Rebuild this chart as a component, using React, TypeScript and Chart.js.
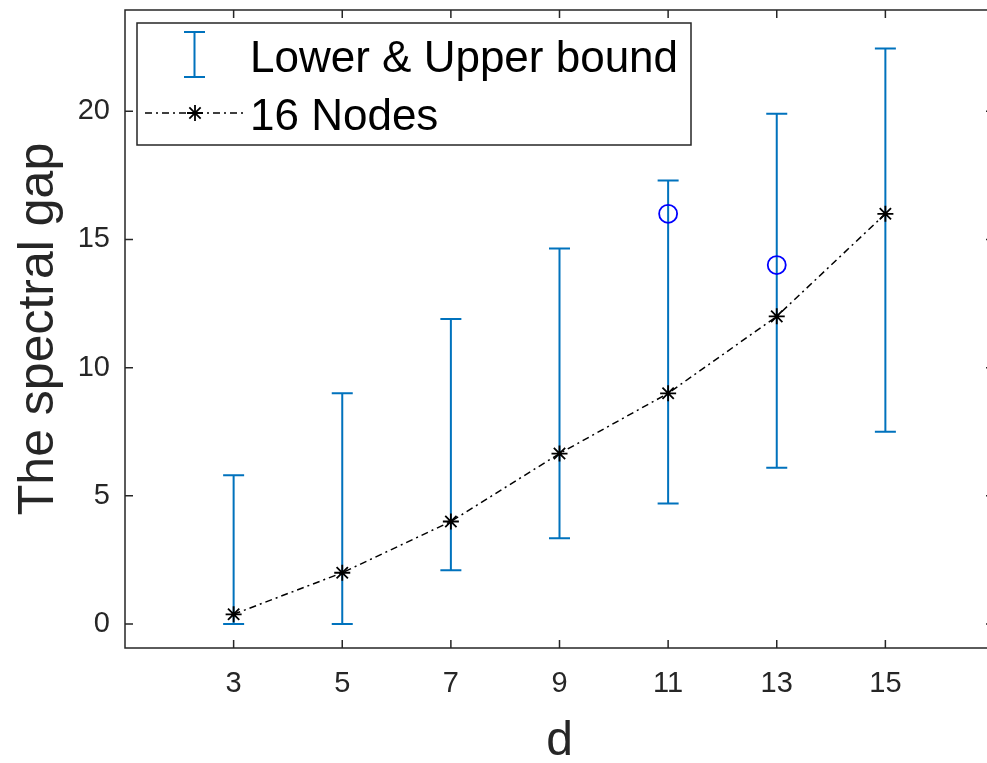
import React, { useEffect, useRef } from "react";
import { Chart, registerables } from "chart.js";

Chart.register(...registerables);

// ---- data ----
const dValues = [3, 5, 7, 9, 11, 13, 15];
const nodes16 = [0.38, 2.0, 4.0, 6.65, 9.0, 12.0, 16.0];
const lowerBound = [0, 0, 2.1, 3.35, 4.7, 6.1, 7.5];
const upperBound = [5.8, 9.0, 11.9, 14.65, 17.3, 19.9, 22.45];
const circleX = [11, 13];
const circleY = [16, 14];
const xTickValues = [3, 5, 7, 9, 11, 13, 15];
const yTickValues = [0, 5, 10, 15, 20];
const legendLabels = ["Lower & Upper bound", "16 Nodes"];

const AXIS_COLOR = "#262626";
const ERR_COLOR = "#0072BD";
const FONT = "'Liberation Sans', Arial, Helvetica, sans-serif";
const DASH = [7, 4, 2, 4];

function drawStar(ctx: CanvasRenderingContext2D, x: number, y: number, r: number) {
  ctx.beginPath();
  for (let i = 0; i < 4; i++) {
    const a = (i * Math.PI) / 4;
    ctx.moveTo(x - r * Math.cos(a), y - r * Math.sin(a));
    ctx.lineTo(x + r * Math.cos(a), y + r * Math.sin(a));
  }
  ctx.stroke();
}

const errorBarPlugin = {
  id: "errorBars",
  beforeDatasetsDraw(chart: any) {
    const { ctx, scales } = chart;
    const xs = scales.x;
    const ys = scales.y;
    ctx.save();
    ctx.strokeStyle = ERR_COLOR;
    ctx.lineWidth = 2;
    const cap = 10.5;
    dValues.forEach((d, i) => {
      const x = xs.getPixelForValue(d);
      const yl = ys.getPixelForValue(lowerBound[i]);
      const yu = ys.getPixelForValue(upperBound[i]);
      ctx.beginPath();
      ctx.moveTo(x, yl);
      ctx.lineTo(x, yu);
      ctx.moveTo(x - cap, yl);
      ctx.lineTo(x + cap, yl);
      ctx.moveTo(x - cap, yu);
      ctx.lineTo(x + cap, yu);
      ctx.stroke();
    });
    ctx.restore();
  },
};

const axesBoxPlugin = {
  id: "axesBox",
  afterDraw(chart: any) {
    const { ctx, chartArea, scales } = chart;
    const { left, right, top, bottom } = chartArea;
    ctx.save();
    ctx.strokeStyle = AXIS_COLOR;
    ctx.lineWidth = 1.5;
    ctx.strokeRect(left, top, right - left, bottom - top);
    const tl = 8;
    ctx.beginPath();
    xTickValues.forEach((v) => {
      const x = scales.x.getPixelForValue(v);
      ctx.moveTo(x, bottom);
      ctx.lineTo(x, bottom - tl);
      ctx.moveTo(x, top);
      ctx.lineTo(x, top + tl);
    });
    yTickValues.forEach((v) => {
      const y = scales.y.getPixelForValue(v);
      ctx.moveTo(left, y);
      ctx.lineTo(left + tl, y);
      ctx.moveTo(right, y);
      ctx.lineTo(right - tl, y);
    });
    ctx.stroke();

    // legend
    const lx = 137, ly = 23, lw = 554, lh = 122;
    ctx.fillStyle = "#ffffff";
    ctx.fillRect(lx, ly, lw, lh);
    ctx.strokeStyle = AXIS_COLOR;
    ctx.lineWidth = 1.5;
    ctx.strokeRect(lx, ly, lw, lh);

    // error bar glyph
    ctx.strokeStyle = ERR_COLOR;
    ctx.lineWidth = 2;
    const gx = 194.5;
    ctx.beginPath();
    ctx.moveTo(gx, 32);
    ctx.lineTo(gx, 77);
    ctx.moveTo(gx - 10.5, 32);
    ctx.lineTo(gx + 10.5, 32);
    ctx.moveTo(gx - 10.5, 77);
    ctx.lineTo(gx + 10.5, 77);
    ctx.stroke();

    // line glyph
    ctx.strokeStyle = "#000000";
    ctx.lineWidth = 1.5;
    ctx.setLineDash(DASH);
    ctx.beginPath();
    ctx.moveTo(145, 113);
    ctx.lineTo(243, 113);
    ctx.stroke();
    ctx.setLineDash([]);
    ctx.lineWidth = 1.8;
    drawStar(ctx, 195, 113, 8);

    ctx.fillStyle = "#000000";
    ctx.font = `44px ${FONT}`;
    ctx.textAlign = "left";
    ctx.textBaseline = "alphabetic";
    ctx.fillText(legendLabels[0], 250, 72);
    ctx.fillText(legendLabels[1], 250, 130);
    ctx.restore();
  },
};

export default function App() {
  const canvasRef = useRef<HTMLCanvasElement | null>(null);

  useEffect(() => {
    if (!canvasRef.current) return;
    const chart = new Chart(canvasRef.current, {
      type: "line",
      data: {
        datasets: [
          {
            label: legendLabels[1],
            data: dValues.map((d, i) => ({ x: d, y: nodes16[i] })),
            borderColor: "#000000",
            borderWidth: 1.5,
            borderDash: DASH,
            pointStyle: "star",
            pointRadius: 8,
            pointBorderColor: "#000000",
            pointBorderWidth: 1.8,
            pointBackgroundColor: "#000000",
            fill: false,
            tension: 0,
          },
          {
            label: "circles",
            data: circleX.map((x, i) => ({ x, y: circleY[i] })),
            showLine: false,
            pointStyle: "circle",
            pointRadius: 9,
            pointBorderColor: "#0000FF",
            pointBorderWidth: 1.8,
            pointBackgroundColor: "rgba(0,0,0,0)",
          },
        ],
      },
      options: {
        animation: false,
        responsive: false,
        devicePixelRatio: 1,
        layout: { autoPadding: false, padding: { top: 10, right: 6, left: 0, bottom: 0 } },
        plugins: {
          legend: { display: false },
          tooltip: { enabled: false },
          title: { display: false },
        },
        scales: {
          x: {
            type: "linear",
            min: 1,
            max: 17,
            grid: { display: false, drawTicks: false },
            border: { display: false },
            afterBuildTicks: (scale: any) => {
              scale.ticks = xTickValues.map((v) => ({ value: v }));
            },
            afterFit: (scale: any) => {
              scale.height = 115;
              scale.paddingLeft = 0;
              scale.paddingRight = 0;
            },
            ticks: {
              color: AXIS_COLOR,
              font: { family: FONT, size: 29 },
              padding: 18.5,
              maxRotation: 0,
              autoSkip: false,
            },
            title: {
              display: true,
              text: "d",
              color: AXIS_COLOR,
              font: { family: FONT, size: 48, lineHeight: 0.9 },
              padding: { top: 0, bottom: 0 },
            },
          },
          y: {
            type: "linear",
            min: -0.935,
            max: 23.95,
            grid: { display: false, drawTicks: false },
            border: { display: false },
            afterBuildTicks: (scale: any) => {
              scale.ticks = yTickValues.map((v) => ({ value: v }));
            },
            afterFit: (scale: any) => {
              scale.width = 125;
              scale.paddingTop = 0;
              scale.paddingBottom = 0;
            },
            ticks: {
              color: AXIS_COLOR,
              font: { family: FONT, size: 29 },
              padding: 15,
              autoSkip: false,
            },
            title: {
              display: true,
              text: "The spectral gap",
              color: AXIS_COLOR,
              font: { family: FONT, size: 50, lineHeight: 1 },
              padding: { top: 14, bottom: 0 },
            },
          },
        },
      },
      plugins: [errorBarPlugin, axesBoxPlugin],
    });
    return () => chart.destroy();
  }, []);

  return (
    <div
      style={{
        position: "fixed",
        left: 0,
        top: 0,
        width: 987,
        height: 763,
        overflow: "hidden",
        background: "#ffffff",
      }}
    >
      <canvas ref={canvasRef} width={1000} height={763} style={{ display: "block", width: 1000, height: 763 }} />
    </div>
  );
}
